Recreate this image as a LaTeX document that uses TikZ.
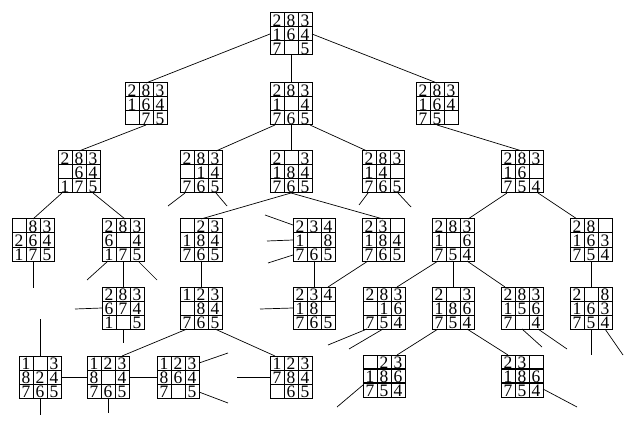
\documentclass[tikz,border=0pt]{standalone}
\usepackage{fontspec}
\setmainfont{Liberation Serif}
\usetikzlibrary{calc}
\tikzset{
  puzbox/.style={draw, line width=1pt, minimum width=42pt, minimum height=42pt, inner sep=0pt, outer sep=0pt},
  gridline/.style={line width=1pt},
  digit/.style={inner sep=0pt, anchor=base, text height=10pt, text depth=0pt, font=\fontsize{17.5}{17.5}\selectfont},
  edge/.style={line width=0.7pt},
}
\newcommand\puz[5][]{%
  \node[puzbox] (#2) at (#3+21,#4+21) {};
  \draw[gridline] ($(#2.north west)+(14,0)$) -- ($(#2.south west)+(14,0)$);
  \draw[gridline] ($(#2.north west)+(28,0)$) -- ($(#2.south west)+(28,0)$);
  \draw[gridline,#1] ($(#2.north west)+(0,14)$) -- ($(#2.north east)+(0,14)$);
  \draw[gridline,#1] ($(#2.north west)+(0,28)$) -- ($(#2.north east)+(0,28)$);
  \foreach \d [count=\i from 0] in {#5} {
    \pgfmathtruncatemacro\rr{int(\i/3)}
    \pgfmathtruncatemacro\cc{mod(\i,3)}
    \ifnum\d>0 \node[digit] (#2-\i) at ($(#2.north west)+(\cc*14+7,\rr*14+13.2)$) {\d};\fi
  }
}
\begin{document}
\begin{tikzpicture}[x=1pt,y=-1pt]
\fill[white] (0,0) rectangle (639,430);
\useasboundingbox (0,0) rectangle (639,430);
% level 0
\puz{R}{270}{13}{2,8,3,1,6,4,7,0,5}
% level 1
\puz{A1}{125}{83}{2,8,3,1,6,4,0,7,5}
\puz{A2}{270}{83}{2,8,3,1,0,4,7,6,5}
\puz{A3}{416}{83}{2,8,3,1,6,4,7,5,0}
% level 2
\puz{B1}{58}{151}{2,8,3,0,6,4,1,7,5}
\puz{B2}{180}{151}{2,8,3,0,1,4,7,6,5}
\puz{B3}{270}{151}{2,0,3,1,8,4,7,6,5}
\puz{B4}{362}{151}{2,8,3,1,4,0,7,6,5}
\puz{B5}{501}{151}{2,8,3,1,6,0,7,5,4}
% level 3
\puz{C1}{12}{219}{0,8,3,2,6,4,1,7,5}
\puz{C2}{102}{219}{2,8,3,6,0,4,1,7,5}
\puz{C3}{180}{219}{0,2,3,1,8,4,7,6,5}
\puz{C4}{293}{219}{2,3,4,1,0,8,7,6,5}
\puz{C5}{362}{219}{2,3,0,1,8,4,7,6,5}
\puz{C6}{432}{219}{2,8,3,1,0,6,7,5,4}
\puz{C7}{570}{219}{2,8,0,1,6,3,7,5,4}
% level 4
\puz{D1}{102}{287}{2,8,3,6,7,4,1,0,5}
\puz{D2}{180}{287}{1,2,3,0,8,4,7,6,5}
\puz{D3}{293}{287}{2,3,4,1,8,0,7,6,5}
\puz{D4}{363}{287}{2,8,3,0,1,6,7,5,4}
\puz{D5}{432}{287}{2,0,3,1,8,6,7,5,4}
\puz{D6}{501}{287}{2,8,3,1,5,6,7,0,4}
\puz{D7}{570}{287}{2,0,8,1,6,3,7,5,4}
% level 5
\puz{E1}{19}{356}{1,0,3,8,2,4,7,6,5}
\puz{E2}{87}{356}{1,2,3,8,0,4,7,6,5}
\puz{E3}{157}{356}{1,2,3,8,6,4,7,0,5}
\puz{E4}{270}{356}{1,2,3,7,8,4,0,6,5}
\puz[line width=2pt]{E5}{363}{355}{0,2,3,1,8,6,7,5,4}
\puz[line width=2pt]{E6}{501}{355}{2,3,0,1,8,6,7,5,4}
% connectors between nodes
\draw[edge] (R.west) -- (A1.north);
\draw[edge] (R.south) -- (A2.north);
\draw[edge] (R.east) -- (A3.north);
\draw[edge] (A1.south) -- (B1.north);
\draw[edge] ($(A2.south west)+(5,0)$) -- ($(B2.north east)+(-6,0)$);
\draw[edge] (A2.south) -- (B3.north);
\draw[edge] ($(A2.south east)+(-2,0)$) -- ($(B4.north west)+(5,0)$);
\draw[edge] (A3.south) -- (B5.north);
\draw[edge] ($(B1.south west)+(4,0)$) -- (C1.north);
\draw[edge] ($(B1.south east)+(-7,0)$) -- ($(C2.north)+(2,0)$);
\draw[edge] (B3.south) -- (C3.north);
\draw[edge] (B3.south) -- (C5.north);
\draw[edge] ($(B5.south west)+(6,0)$) -- ($(C6.north east)+(-6,0)$);
\draw[edge] ($(B5.south east)+(-5,0)$) -- ($(C7.north west)+(7,0)$);
\draw[edge] (C2.south) -- (D1.north);
\draw[edge] (C3.south) -- (D2.north);
\draw[edge] (C4.south) -- (D3.north);
\draw[edge] ($(C5.south west)+(6,0)$) -- ($(D3.north east)+(-7,0)$);
\draw[edge] ($(C6.south west)+(6,0)$) -- ($(D4.north east)+(-8,0)$);
\draw[edge] (C6.south) -- (D5.north);
\draw[edge] ($(C6.south east)+(-7,0)$) -- ($(D6.north west)+(4,0)$);
\draw[edge] (C7.south) -- (D7.north);
\draw[edge] ($(D2.south west)+(7,0)$) -- ($(E2.north east)+(-7,0)$);
\draw[edge] ($(D2.south east)+(-7,0)$) -- ($(E4.north west)+(5,0)$);
\draw[edge] ($(D5.south west)+(6,0)$) -- ($(E5.north east)+(-8,0)$);
\draw[edge] ($(D5.south east)+(-7,0)$) -- ($(E6.north west)+(7,0)$);
\draw[edge] (E1.east) -- (E2.west);
\draw[edge] (E2.east) -- (E3.west);
% free ends of stubs
\coordinate (sB2a) at (168,206);
\coordinate (sB2b) at (227,206);
\coordinate (sB4a) at (359,205);
\coordinate (sB4b) at (411,207);
\coordinate (sC1) at (33,288);
\coordinate (sC2a) at (87,280);
\coordinate (sC2b) at (157,280);
\coordinate (sC4a) at (265,215);
\coordinate (sC4b) at (267,241);
\coordinate (sC4c) at (268,263);
\coordinate (sD1a) at (75,309);
\coordinate (sD1b) at (123,343);
\coordinate (sD3) at (260,309);
\coordinate (sD4a) at (328,345);
\coordinate (sD4b) at (349,349);
\coordinate (sD6a) at (542,347);
\coordinate (sD6b) at (567,349);
\coordinate (sD7a) at (591,355);
\coordinate (sD7b) at (623,355);
\coordinate (sE1a) at (40,319);
\coordinate (sE1b) at (40,415);
\coordinate (sE2) at (108,413);
\coordinate (sE3a) at (228,353);
\coordinate (sE3b) at (228,403);
\coordinate (sE4) at (237,377);
\coordinate (sE5) at (337,407);
\coordinate (sE6) at (577,407);
% stubs
\draw[edge] ($(B2.south west)+(5,0)$) -- (sB2a);
\draw[edge] ($(B2.south east)+(-6,0)$) -- (sB2b);
\draw[edge] ($(B4.south west)+(6,0)$) -- (sB4a);
\draw[edge] ($(B4.south east)+(-6,0)$) -- (sB4b);
\draw[edge] (C1.south) -- (sC1);
\draw[edge] ($(C2.south west)+(6,0)$) -- (sC2a);
\draw[edge] ($(C2.south east)+(-6,0)$) -- (sC2b);
\draw[edge] ($(C4.north west)+(0,6)$) -- (sC4a);
\draw[edge] (C4.west) -- (sC4b);
\draw[edge] ($(C4.south west)+(0,-6)$) -- (sC4c);
\draw[edge] (D1.west) -- (sD1a);
\draw[edge] (D1.south) -- (sD1b);
\draw[edge] (D3.west) -- (sD3);
\draw[edge] ($(D4.south west)+(4,0)$) -- (sD4a);
\draw[edge] ($(D4.south west)+(20,0)$) -- (sD4b);
\draw[edge] ($(D6.south west)+(21,0)$) -- (sD6a);
\draw[edge] ($(D6.south east)+(-5,0)$) -- (sD6b);
\draw[edge] (D7.south) -- (sD7a);
\draw[edge] ($(D7.south east)+(-7,0)$) -- (sD7b);
\draw[edge] (E1.north) -- (sE1a);
\draw[edge] (E1.south) -- (sE1b);
\draw[edge] (E2.south) -- (sE2);
\draw[edge] ($(E3.north east)+(0,7)$) -- (sE3a);
\draw[edge] ($(E3.south east)+(0,-6)$) -- (sE3b);
\draw[edge] (E4.west) -- (sE4);
\draw[edge] ($(E5.south west)+(0,-12)$) -- (sE5);
\draw[edge] ($(E6.south east)+(0,-8)$) -- (sE6);
\end{tikzpicture}
\end{document}
